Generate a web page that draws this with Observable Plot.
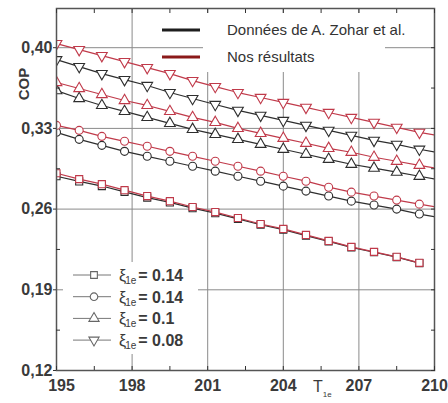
<!DOCTYPE html>
<html><head><meta charset="utf-8">
<script src="https://cdn.jsdelivr.net/npm/d3@7"></script>
<script src="https://cdn.jsdelivr.net/npm/@observablehq/plot@0.6"></script>
<style>
body{margin:0;background:#fff;}
#chart{position:relative;width:448px;height:403px;}
</style>
</head><body><div id="chart"></div>
<script>
// ---- data ----
const tempX = [195,195.9,196.8,197.7,198.6,199.5,200.4,201.3,202.2,203.1,204,204.9,205.8,206.7,207.6,208.5,209.4,210.3];
const xTicks = [195,198,201,204,207,210];
const yTicks = [0.12,0.19,0.26,0.33,0.40];
const xMinor = [196.5,199.5,202.5,205.5,208.5];
const yMinor = [0.155,0.225,0.295,0.365];
const xiLabels = ["0.14","0.14","0.1","0.08"];
const sourceLabels = ["Données de A. Zohar et al.","Nos résultats"];

// Données de A. Zohar et al. (black)
const zoharSquare = [0.2885,0.2840,0.2800,0.2750,0.2700,0.2658,0.2608,0.2565,0.2515,0.2464,0.2422,0.2370,0.2320,0.2268,0.2226,0.2184,0.2132];
const zoharCircle = [0.3266,0.3205,0.3153,0.3101,0.3058,0.3015,0.2972,0.2929,0.2885,0.2842,0.2799,0.2756,0.2713,0.2669,0.2635,0.2600,0.2557,0.2523];
const zoharTriUp  = [0.3628,0.3559,0.3499,0.3447,0.3395,0.3343,0.3292,0.3248,0.3205,0.3162,0.3119,0.3076,0.3032,0.2989,0.2955,0.2920,0.2885,0.2851];
const zoharTriDn  = [0.3896,0.3836,0.3775,0.3723,0.3672,0.3611,0.3559,0.3507,0.3456,0.3413,0.3369,0.3326,0.3283,0.3240,0.3196,0.3162,0.3119,0.3084];
// Nos résultats (red)
const oursSquare = [0.2911,0.2860,0.2816,0.2764,0.2713,0.2669,0.2618,0.2574,0.2523,0.2471,0.2428,0.2376,0.2324,0.2272,0.2229,0.2186,0.2134];
const oursCircle = [0.3326,0.3283,0.3231,0.3188,0.3145,0.3101,0.3058,0.3015,0.2972,0.2929,0.2885,0.2842,0.2790,0.2747,0.2713,0.2678,0.2643,0.2609];
const oursTriUp  = [0.3698,0.3646,0.3594,0.3542,0.3499,0.3447,0.3395,0.3352,0.3300,0.3257,0.3214,0.3171,0.3127,0.3093,0.3050,0.3015,0.2980,0.2946];
const oursTriDn  = [0.4035,0.3983,0.3931,0.3879,0.3827,0.3775,0.3715,0.3663,0.3611,0.3568,0.3525,0.3482,0.3438,0.3395,0.3352,0.3309,0.3266,0.3231];

// ---- styling ----
const sqrt3 = Math.sqrt(3);
const triangleDown = {
  draw(context, size) {
    const y = Math.sqrt(size / (sqrt3 * 3));
    context.moveTo(0, y * 2);
    context.lineTo(-sqrt3 * y, -y);
    context.lineTo(sqrt3 * y, -y);
    context.closePath();
  }
};
const symbols = ["square","circle","triangle",triangleDown];
const black = "#2e2e2e", red = "#c03a4a";
const sources = [
  {color: black, series: [zoharSquare, zoharCircle, zoharTriUp, zoharTriDn]},
  {color: red,   series: [oursSquare, oursCircle, oursTriUp, oursTriDn]}
];

const marks = [
  Plot.gridX(xTicks.slice(1,-1), {stroke:"#8a8a8a", strokeOpacity:1, strokeWidth:1}),
  Plot.gridY(yTicks.slice(1), {stroke:"#8a8a8a", strokeOpacity:1, strokeWidth:1})
];
for (const src of sources) {
  src.series.forEach((vals, k) => {
    const rows = vals.map((v, i) => ({x: tempX[i], y: v}));
    marks.push(Plot.line(rows, {x:"x", y:"y", stroke: src.color, strokeWidth:1.2, clip:true}));
    marks.push(Plot.dot(rows, {x:"x", y:"y", symbol: symbols[k], r:4, stroke: src.color, strokeWidth:1.1, fill:"white", clip:true}));
  });
}
marks.push(
  Plot.frame({stroke:"#555", strokeWidth:1.5}),
  Plot.axisY({ticks: yTicks, anchor:"left", tickSize:3, tickPadding:1, tickFormat: d => d.toFixed(2).replace(".", ","), label:null, fontSize:16, fontWeight:"bold", fill:"#3a3a3a"}),
  Plot.axisX({ticks: xTicks, anchor:"bottom", tickSize:0, tickPadding:9, label:null, fontSize:16, fontWeight:"bold", fill:"#3a3a3a"}),
  Plot.axisX({ticks: xMinor.concat(xTicks), anchor:"bottom", tickSize:-4, tickFormat: () => "", label:null}),
  Plot.axisX({ticks: xMinor.concat(xTicks), anchor:"top", tickSize:-4, tickFormat: () => "", label:null}),
  Plot.axisY({ticks: yMinor.concat(yTicks), anchor:"right", tickSize:-4, tickFormat: () => "", label:null}),
  Plot.axisY({ticks: yMinor, anchor:"left", tickSize:-4, tickFormat: () => "", label:null})
);

const chart = Plot.plot({
  width: 448, height: 403,
  marginLeft: 56, marginRight: 14, marginTop: 8, marginBottom: 33,
  x: {domain: [195, 210]},
  y: {domain: [0.12, 0.434]},
  style: {fontFamily: "'Liberation Sans', Arial, sans-serif", fontSize: "14px", color: "#333", background: "white"},
  marks
});
document.getElementById("chart").appendChild(chart);

// ---- post-processing: labels & legends ----
const svg = d3.select(chart);
svg.selectAll("text").filter(function(){ return this.textContent === "195"; }).attr("dx", 5);
const overlay = svg.append("g").attr("text-anchor","start");

// axis titles
overlay.append("text").attr("transform","translate(29,84) rotate(-90)").attr("text-anchor","middle")
  .attr("font-size",15).attr("font-weight","bold").attr("fill","#3a3a3a").text("COP");
const tl = overlay.append("text").attr("x",313).attr("y",392).attr("font-size",16).attr("fill","#3a3a3a");
tl.append("tspan").text("T");
tl.append("tspan").attr("font-size",8).attr("dy",5).text("1e");

// top legend
overlay.append("rect").attr("x",203).attr("y",13).attr("width",182).attr("height",59).attr("fill","white");
[{c:"#1e1e1e", y:30}, {c:"#8b1a1a", y:57}].forEach((d,i) => {
  overlay.append("line").attr("x1",162).attr("x2",200).attr("y1",d.y).attr("y2",d.y).attr("stroke",d.c).attr("stroke-width",3);
  overlay.append("text").attr("x",227).attr("y",d.y+5).attr("font-size",15).attr("fill","#333").text(sourceLabels[i]);
});

// bottom legend
overlay.append("rect").attr("x",63).attr("y",262).attr("width",135).attr("height",92).attr("fill","white");
const symGen = [d3.symbolSquare, d3.symbolCircle, d3.symbolTriangle, triangleDown];
xiLabels.forEach((lab, k) => {
  const y = 275 + 21.7*k;
  overlay.append("line").attr("x1",73).attr("x2",111).attr("y1",y).attr("y2",y).attr("stroke","#777").attr("stroke-width",1);
  overlay.append("path").attr("transform",`translate(94,${y})`).attr("d", d3.symbol(symGen[k], 45)())
    .attr("fill","white").attr("stroke","#666").attr("stroke-width",1.1);
  const t = overlay.append("text").attr("x",119).attr("y",y+6).attr("font-size",16).attr("fill","#3a3a3a");
  t.append("tspan").text("ξ");
  t.append("tspan").attr("font-size",10).attr("dy",3).attr("dx",-1).text("1e");
  t.append("tspan").attr("dy",-3).attr("dx",2).attr("font-weight","bold").text("= " + lab);
});
</script>
</body></html>
